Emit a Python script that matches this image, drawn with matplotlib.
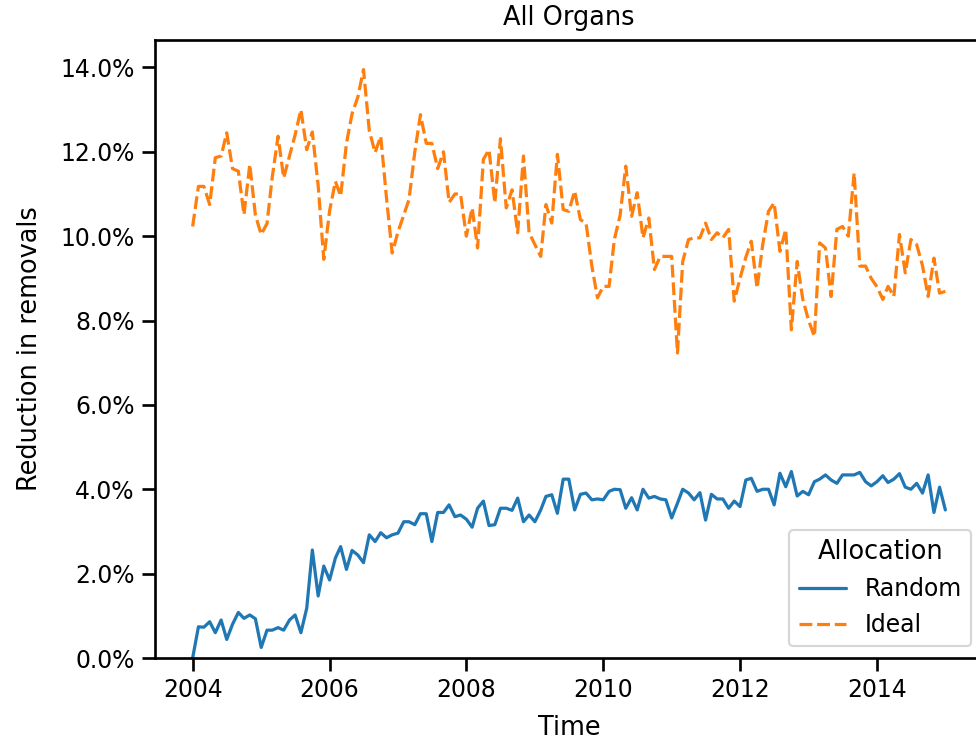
import numpy as np
import pandas as pd
import matplotlib
matplotlib.use("Agg")
import matplotlib.pyplot as plt
import matplotlib.dates as mdates
from matplotlib.ticker import PercentFormatter
import seaborn as sns

# monthly reduction in removals (%), Jan 2004 .. Jan 2015
months = pd.date_range("2004-01-01", "2015-01-01", freq="MS")

random_alloc = [
    0.00, 0.74, 0.73, 0.86, 0.60, 0.90, 0.44, 0.80, 1.08, 0.94, 1.02, 0.93,
    0.25, 0.66, 0.66, 0.72, 0.66, 0.90, 1.02, 0.60, 1.18, 2.56, 1.47, 2.18,
    1.85, 2.37, 2.64, 2.10, 2.55, 2.44, 2.26, 2.92, 2.76, 2.97, 2.85, 2.92,
    2.96, 3.23, 3.23, 3.16, 3.42, 3.42, 2.76, 3.45, 3.45, 3.63, 3.35, 3.39,
    3.29, 3.10, 3.55, 3.72, 3.14, 3.16, 3.55, 3.55, 3.50, 3.79, 3.23, 3.39,
    3.23, 3.51, 3.83, 3.87, 3.43, 4.24, 4.24, 3.51, 3.88, 3.91, 3.75, 3.77,
    3.75, 3.95, 4.00, 3.99, 3.55, 3.80, 3.51, 4.00, 3.79, 3.83, 3.77, 3.75,
    3.32, 3.67, 4.00, 3.91, 3.75, 3.92, 3.27, 3.88, 3.77, 3.77, 3.55, 3.72,
    3.59, 4.22, 4.26, 3.95, 4.00, 4.00, 3.63, 4.38, 4.06, 4.42, 3.84, 3.95,
    3.87, 4.18, 4.24, 4.34, 4.22, 4.14, 4.34, 4.34, 4.34, 4.40, 4.18, 4.08,
    4.18, 4.32, 4.16, 4.24, 4.37, 4.05, 4.00, 4.14, 3.91, 4.34, 3.45, 4.05,
    3.51,
]

ideal_alloc = [
    10.23, 11.18, 11.18, 10.75, 11.86, 11.90, 12.45, 11.60, 11.54, 10.51, 11.70, 10.50,
    10.04, 10.30, 11.40, 12.37, 11.38, 11.90, 12.40, 13.00, 12.05, 12.47, 11.20, 9.45,
    10.60, 11.30, 10.95, 12.20, 12.90, 13.30, 13.95, 12.50, 11.98, 12.37, 10.90, 9.60,
    10.10, 10.50, 10.87, 12.00, 12.88, 12.20, 12.20, 11.60, 12.00, 10.80, 11.00, 11.00,
    10.00, 10.67, 9.72, 11.82, 12.05, 10.79, 12.31, 10.67, 11.10, 10.08, 11.90, 10.08,
    9.80, 9.52, 10.75, 10.31, 11.94, 10.63, 10.59, 11.07, 10.39, 10.31, 9.29, 8.54,
    8.81, 8.81, 9.92, 10.50, 11.66, 10.47, 11.03, 9.96, 10.43, 9.21, 9.52, 9.52,
    9.52, 7.23, 9.40, 9.92, 9.96, 9.96, 10.31, 9.92, 10.08, 9.96, 10.16, 8.46,
    9.00, 9.50, 9.88, 8.77, 9.80, 10.59, 10.79, 9.64, 10.16, 7.78, 9.40, 8.50,
    8.00, 7.62, 9.84, 9.72, 8.57, 10.16, 10.23, 10.00, 11.50, 9.29, 9.29, 9.00,
    8.80, 8.50, 8.81, 8.57, 10.04, 9.13, 9.92, 9.80, 9.30, 8.57, 9.48, 8.65,
    8.69,
]

sns.set_theme(style="ticks", context="notebook",
              rc={"text.color": "black", "axes.labelcolor": "black",
                  "axes.edgecolor": "black", "xtick.color": "black",
                  "ytick.color": "black"})

fig = plt.figure(figsize=(976 / 154, 740 / 154), dpi=154)
ax = fig.add_axes([155 / 976, 82 / 740, 828 / 976, 618 / 740])

ax.plot(months, random_alloc, color="#1f77b4", lw=1.5, label="Random")
ax.plot(months, ideal_alloc, color="#ff7f0e", lw=1.5, dashes=(4, 1.5), label="Ideal")

ax.set_ylim(0, 14.65)
ax.set_yticks(np.arange(0, 15, 2))
ax.yaxis.set_major_formatter(PercentFormatter(xmax=100, decimals=1))
ax.xaxis.set_major_locator(mdates.YearLocator(2))
ax.xaxis.set_major_formatter(mdates.DateFormatter("%Y"))

ax.set_xlabel("Time", labelpad=6)
ax.set_ylabel("Reduction in removals", labelpad=8)
ax.set_title("All Organs", pad=7)
ax.legend(title="Allocation", loc="lower right")

fig.savefig("out.png", dpi=154)
